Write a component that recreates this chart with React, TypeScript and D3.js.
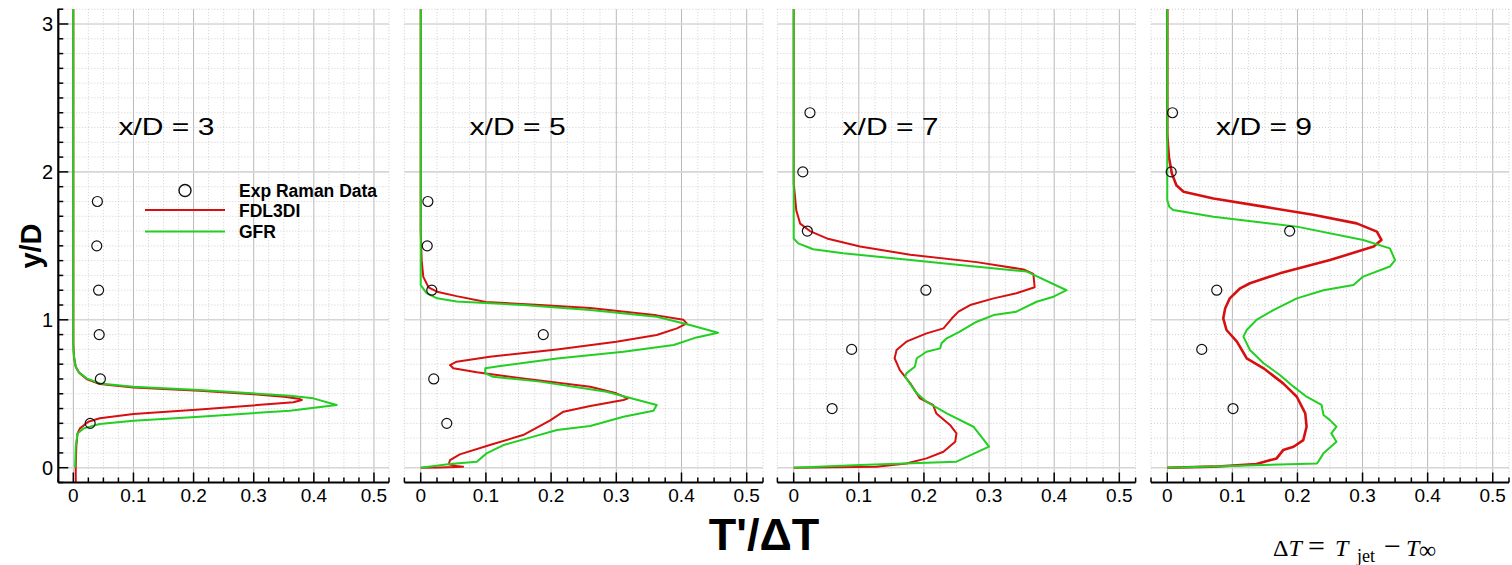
import React from 'react'
import * as d3 from 'd3'

type Pt = [number, number]

// x/D = 3
const exp3: Pt[] = [[0.040, 1.8], [0.039, 1.5], [0.042, 1.2], [0.043, 0.9], [0.045, 0.6], [0.028, 0.3]]
const fdl3: Pt[] = [[0, 3.1], [0, 0.85], [0.001, 0.75], [0.004, 0.683], [0.01, 0.64], [0.022, 0.6], [0.044, 0.566], [0.1, 0.543], [0.21, 0.52], [0.3, 0.497], [0.35, 0.48], [0.375, 0.466], [0.38, 0.458], [0.366, 0.442], [0.21, 0.394], [0.1, 0.363], [0.044, 0.334], [0.025, 0.311], [0.011, 0.266], [0.007, 0.232], [0.005, 0.15], [0.004, 0], [0.004, -0.1]]
const gfr3: Pt[] = [[0, 3.1], [0, 0.8], [0.002, 0.72], [0.004, 0.683], [0.008, 0.65], [0.022, 0.604], [0.044, 0.57], [0.1, 0.548], [0.21, 0.525], [0.36, 0.487], [0.399, 0.469], [0.438, 0.424], [0.36, 0.385], [0.21, 0.345], [0.1, 0.318], [0.044, 0.295], [0.017, 0.266], [0.007, 0.232], [0.004, 0.142], [0.003, 0]]

// x/D = 5
const exp5: Pt[] = [[0.011, 1.8], [0.01, 1.5], [0.017, 1.2], [0.188, 0.9], [0.02, 0.6], [0.04, 0.3]]
const fdl5: Pt[] = [[0, 3.1], [0, 1.6], [0.0015, 1.4], [0.004, 1.29], [0.012, 1.22], [0.025, 1.19], [0.055, 1.16], [0.1, 1.12], [0.183, 1.1], [0.26, 1.08], [0.362, 1.03], [0.403, 1.0], [0.408, 0.976], [0.393, 0.942], [0.362, 0.897], [0.3, 0.852], [0.209, 0.8], [0.106, 0.75], [0.055, 0.717], [0.045, 0.694], [0.05, 0.672], [0.086, 0.645], [0.157, 0.604], [0.26, 0.548], [0.3, 0.503], [0.318, 0.469], [0.311, 0.458], [0.26, 0.417], [0.219, 0.379], [0.198, 0.318], [0.157, 0.221], [0.106, 0.153], [0.06, 0.09], [0.045, 0.052], [0.043, 0.023], [0.055, 0.011], [0.065, 0.007], [0.03, 0.002], [0, 0]]
const gfr5: Pt[] = [[0, 3.1], [0, 1.235], [0.009, 1.18], [0.025, 1.145], [0.055, 1.123], [0.157, 1.1], [0.26, 1.066], [0.362, 1.02], [0.413, 0.965], [0.456, 0.913], [0.423, 0.881], [0.388, 0.83], [0.311, 0.784], [0.209, 0.739], [0.122, 0.688], [0.099, 0.672], [0.099, 0.638], [0.111, 0.615], [0.183, 0.582], [0.285, 0.514], [0.362, 0.424], [0.357, 0.385], [0.311, 0.345], [0.26, 0.282], [0.209, 0.255], [0.173, 0.21], [0.127, 0.153], [0.101, 0.097], [0.086, 0.041], [0.045, 0.025], [0, 0]]

// x/D = 7
const exp7: Pt[] = [[0.025, 2.4], [0.014, 2.0], [0.021, 1.6], [0.203, 1.2], [0.089, 0.8], [0.059, 0.4]]
const fdl7: Pt[] = [[0, 3.1], [0, 1.92], [0.001, 1.88], [0.004, 1.74], [0.01, 1.65], [0.025, 1.6], [0.051, 1.55], [0.102, 1.495], [0.179, 1.44], [0.281, 1.39], [0.353, 1.34], [0.368, 1.31], [0.37, 1.22], [0.342, 1.18], [0.307, 1.145], [0.271, 1.1], [0.253, 1.055], [0.243, 1.01], [0.23, 0.942], [0.204, 0.908], [0.173, 0.852], [0.158, 0.796], [0.155, 0.74], [0.163, 0.66], [0.179, 0.57], [0.194, 0.469], [0.214, 0.424], [0.219, 0.367], [0.24, 0.289], [0.25, 0.232], [0.248, 0.176], [0.23, 0.108], [0.204, 0.063], [0.173, 0.029], [0.127, 0.007], [0, 0]]
const gfr7: Pt[] = [[0, 3.1], [0, 1.55], [0.007, 1.517], [0.03, 1.477], [0.076, 1.45], [0.153, 1.416], [0.255, 1.37], [0.358, 1.326], [0.419, 1.2], [0.399, 1.156], [0.373, 1.122], [0.342, 1.055], [0.307, 1.032], [0.281, 0.987], [0.255, 0.92], [0.235, 0.875], [0.227, 0.841], [0.225, 0.807], [0.204, 0.784], [0.189, 0.74], [0.186, 0.683], [0.173, 0.638], [0.171, 0.615], [0.189, 0.503], [0.204, 0.446], [0.235, 0.367], [0.276, 0.277], [0.3, 0.142], [0.25, 0.041], [0.102, 0.018], [0, 0]]

// x/D = 9
const exp9: Pt[] = [[0.008, 2.4], [0.006, 2.0], [0.188, 1.6], [0.076, 1.2], [0.053, 0.8], [0.101, 0.4]]
const fdl9: Pt[] = [[0, 3.1], [0, 2.26], [0.0005, 2.216], [0.0026, 2.1], [0.007, 1.99], [0.014, 1.91], [0.025, 1.866], [0.071, 1.82], [0.148, 1.765], [0.224, 1.71], [0.291, 1.652], [0.322, 1.596], [0.329, 1.54], [0.317, 1.495], [0.25, 1.404], [0.173, 1.314], [0.127, 1.247], [0.112, 1.213], [0.096, 1.145], [0.089, 1.078], [0.086, 1.01], [0.091, 0.931], [0.107, 0.852], [0.122, 0.74], [0.148, 0.672], [0.178, 0.57], [0.199, 0.48], [0.212, 0.367], [0.214, 0.277], [0.209, 0.187], [0.194, 0.142], [0.178, 0.119], [0.168, 0.063], [0.137, 0.025], [0.071, 0.007], [0, 0]]
const gfr9: Pt[] = [[0, 3.1], [0, 1.81], [0.003, 1.765], [0.009, 1.743], [0.071, 1.697], [0.199, 1.63], [0.301, 1.54], [0.342, 1.483], [0.35, 1.404], [0.342, 1.36], [0.301, 1.292], [0.286, 1.235], [0.24, 1.2], [0.199, 1.145], [0.163, 1.066], [0.137, 0.999], [0.122, 0.931], [0.117, 0.886], [0.127, 0.796], [0.148, 0.706], [0.173, 0.627], [0.194, 0.548], [0.214, 0.48], [0.237, 0.424], [0.24, 0.356], [0.25, 0.322], [0.26, 0.277], [0.252, 0.232], [0.26, 0.176], [0.24, 0.097], [0.232, 0.041], [0.23, 0.029], [0.096, 0.011], [0, 0]]

const xTicks = [0, 0.1, 0.2, 0.3, 0.4, 0.5]
const yTicks = [0, 1, 2, 3]
const stations = ['x/D = 3', 'x/D = 5', 'x/D = 7', 'x/D = 9']
const legendLabels = ['Exp Raman Data', 'FDL3DI', 'GFR']

const RED = '#d61010'
const GREEN = '#22cf22'
const TOP = 9.2
const BOTTOM = 482.5
const SANS = "'Liberation Sans', Arial, sans-serif"

const panels = [
  { x0: 58.3, x1: 389, exp: exp3, fdl: fdl3, gfr: gfr3, redW: 2 },
  { x0: 404.4, x1: 763, exp: exp5, fdl: fdl5, gfr: gfr5, redW: 2 },
  { x0: 777.4, x1: 1135.6, exp: exp7, fdl: fdl7, gfr: gfr7, redW: 2 },
  { x0: 1151, x1: 1509, exp: exp9, fdl: fdl9, gfr: gfr9, redW: 2.6 },
]

function Panel({ p, i }: { p: typeof panels[0]; i: number }) {
  const xs = d3.scaleLinear().domain([-0.025, 0.525]).range([p.x0, p.x1])
  const ys = d3.scaleLinear().domain([-0.1, 3.1]).range([BOTTOM, TOP])
  const line = d3.line<Pt>().x(d => xs(d[0])).y(d => ys(d[1]))

  const minorX = d3.range(0, 23).map(k => -0.025 + k * 0.025)
  const minorY = d3.range(0, 33).map(k => -0.1 + k * 0.1)
  const isMajor = (v: number, step: number) => Math.abs(v / step - Math.round(v / step)) < 1e-6

  return (
    <g>
      {/* minor grid */}
      {minorX.filter(v => !isMajor(v, 0.1)).map((v, k) => (
        <line key={'mx' + k} x1={xs(v)} x2={xs(v)} y1={TOP} y2={BOTTOM} stroke="#c4c4c4" strokeWidth={0.8} strokeDasharray="1,2" />
      ))}
      {minorY.filter(v => !isMajor(v, 1)).map((v, k) => (
        <line key={'my' + k} x1={p.x0} x2={p.x1} y1={ys(v)} y2={ys(v)} stroke="#c4c4c4" strokeWidth={0.8} strokeDasharray="1,2" />
      ))}
      {/* major grid */}
      {xTicks.map(v => (
        <line key={'gx' + v} x1={xs(v)} x2={xs(v)} y1={TOP} y2={BOTTOM} stroke="#b8b8b8" strokeWidth={1} />
      ))}
      {yTicks.map(v => (
        <line key={'gy' + v} x1={p.x0} x2={p.x1} y1={ys(v)} y2={ys(v)} stroke="#d6d6d6" strokeWidth={1.6} />
      ))}

      {/* curves */}
      <path d={line(p.fdl) || ''} fill="none" stroke={RED} strokeWidth={p.redW} strokeLinejoin="round" />
      <path d={line(p.gfr) || ''} fill="none" stroke={GREEN} strokeWidth={2} strokeLinejoin="round" />
      {p.exp.map((d, k) => (
        <circle key={'e' + k} cx={xs(d[0])} cy={ys(d[1])} r={5} fill="none" stroke="#111" strokeWidth={1.2} />
      ))}

      {/* x axis */}
      <line x1={p.x0} x2={p.x1} y1={BOTTOM} y2={BOTTOM} stroke="#000" strokeWidth={2.2} />
      {minorX.map((v, k) => (
        <line key={'tx' + k} x1={xs(v)} x2={xs(v)} y1={BOTTOM} y2={BOTTOM - (isMajor(v, 0.1) ? 10 : 5)} stroke="#000" strokeWidth={1.5} />
      ))}
      {xTicks.map(v => (
        <text key={'lx' + v} x={xs(v)} y={502} textAnchor="middle" fontFamily={SANS} fontSize={19} fill="#000">
          {v === 0 ? '0' : v.toFixed(1)}
        </text>
      ))}

      {/* y axis on the first panel only */}
      {i === 0 && (
        <g>
          <line x1={p.x0} x2={p.x0} y1={TOP - 0.5} y2={BOTTOM} stroke="#000" strokeWidth={2.2} />
          {minorY.map((v, k) => (
            <line key={'ty' + k} x1={p.x0} x2={p.x0 + (isMajor(v, 1) ? 10 : 5)} y1={ys(v)} y2={ys(v)} stroke="#000" strokeWidth={1.5} />
          ))}
          {yTicks.map(v => (
            <text key={'ly' + v} x={53} y={ys(v) + 7} textAnchor="end" fontFamily={SANS} fontSize={20} fill="#000">
              {v}
            </text>
          ))}
        </g>
      )}

      {/* station label */}
      <text x={xs(0.075)} y={ys(2.25)} fontFamily={SANS} fontSize={24} textLength={96} lengthAdjust="spacingAndGlyphs" fill="#000">
        {stations[i]}
      </text>
    </g>
  )
}

function Legend() {
  return (
    <g fontFamily={SANS} fontWeight="bold" fontSize={17.5} fill="#000">
      <circle cx={185} cy={190.5} r={6} fill="none" stroke="#111" strokeWidth={1.4} />
      <text x={239} y={196.5}>{legendLabels[0]}</text>
      <line x1={145} x2={225} y1={210} y2={210} stroke={RED} strokeWidth={2} />
      <text x={239} y={216.5}>{legendLabels[1]}</text>
      <line x1={145} x2={225} y1={231.5} y2={231.5} stroke={GREEN} strokeWidth={2} />
      <text x={239} y={238}>{legendLabels[2]}</text>
    </g>
  )
}

export default function App() {
  const serif = "'Liberation Serif', 'DejaVu Serif', serif"
  return (
    <svg width={1512} height={565} style={{ position: 'absolute', left: 0, top: 0, background: '#fff' }}>
      {panels.map((p, i) => <Panel key={i} p={p} i={i} />)}
      <Legend />
      <text transform="translate(41,246) rotate(-90)" textAnchor="middle" fontFamily={SANS} fontWeight="bold" fontSize={29} fill="#000">
        y/D
      </text>
      <text x={764} y={550} textAnchor="middle" fontFamily={SANS} fontWeight="bold" fontSize={45} fill="#000">
        T'/ΔT
      </text>
      <text y={556} fontFamily={serif} fontSize={24} fill="#000">
        <tspan x={1273}>Δ</tspan>
        <tspan fontStyle="italic">T</tspan>
        <tspan x={1308} fontSize={30}>=</tspan>
        <tspan x={1335} fontSize={24} fontStyle="italic">T</tspan>
        <tspan x={1357} dy={6} fontSize={18}>jet</tspan>
        <tspan x={1384} dy={-6} fontSize={30}>−</tspan>
        <tspan x={1406} fontSize={24} fontStyle="italic">T</tspan>
        <tspan x={1419} dy={2} fontSize={24}>∞</tspan>
      </text>
    </svg>
  )
}
